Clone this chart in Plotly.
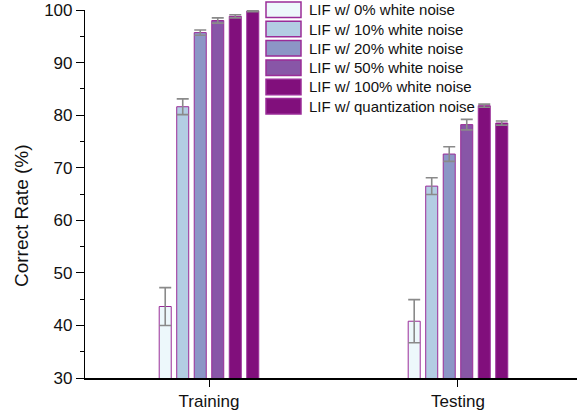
import plotly.graph_objects as go

# Data: correct rate (%) of the LIF model under different noise conditions
phases = ["Training", "Testing"]
series_names = [
    "LIF w/ 0% white noise",
    "LIF w/ 10% white noise",
    "LIF w/ 20% white noise",
    "LIF w/ 50% white noise",
    "LIF w/ 100% white noise",
    "LIF w/ quantization noise",
]
rate_0 = [43.6, 40.8]
rate_10 = [81.6, 66.5]
rate_20 = [95.7, 72.6]
rate_50 = [98.0, 78.2]
rate_100 = [98.8, 81.8]
rate_quant = [99.8, 78.5]
err_0 = [3.6, 4.1]
err_10 = [1.5, 1.6]
err_20 = [0.5, 1.4]
err_50 = [0.5, 1.0]
err_100 = [0.3, 0.3]
err_quant = [0.1, 0.4]

values = [rate_0, rate_10, rate_20, rate_50, rate_100, rate_quant]
errors = [err_0, err_10, err_20, err_50, err_100, err_quant]
fills = ["#EDF8FB", "#B3CDE3", "#8C96C6", "#8856A7", "#810F7C", "#810F7C"]
edge = "#9A2C98"

W, H = 577, 412
ML, MR, MT, MB = 85, 0, 10, 34
PW, PH = W - ML - MR, H - MT - MB
FONT = "Arial, Liberation Sans, sans-serif"

fig = go.Figure()
for name, vals, errs, col in zip(series_names, values, errors, fills):
    fig.add_trace(go.Bar(
        x=phases, y=vals, name=name,
        marker=dict(color=col, line=dict(color=edge, width=1)),
        error_y=dict(type="data", array=errs, visible=True,
                     color="#8A8A8A", thickness=1.6, width=6),
        showlegend=False,
    ))

# Legend drawn as boxed swatches with labels
def px_x(p):
    return (p - ML) / PW

def px_y(p):
    return (H - MB - p) / PH

shapes = []
annotations = []
row_top, row_pitch, sw_h = 2, 19.3, 15.5
for i, (name, col) in enumerate(zip(series_names, fills)):
    top = row_top + i * row_pitch
    shapes.append(dict(
        type="rect", xref="paper", yref="paper",
        x0=px_x(266), x1=px_x(301), y0=px_y(top + sw_h), y1=px_y(top),
        fillcolor=col, line=dict(color=edge, width=1.5), layer="above",
    ))
    annotations.append(dict(
        x=px_x(307), y=px_y(top + sw_h / 2), xref="paper", yref="paper",
        text=name, showarrow=False, xanchor="left", yanchor="middle",
        font=dict(family=FONT, size=15, color="#111111"),
    ))

# Y axis title
annotations.append(dict(
    x=px_x(22), y=px_y(216), xref="paper", yref="paper",
    text="Correct Rate (%)", textangle=-90, showarrow=False,
    xanchor="center", yanchor="middle",
    font=dict(family=FONT, size=19, color="#111111"),
))

fig.update_layout(
    width=W, height=H,
    margin=dict(l=ML, r=MR, t=MT, b=MB, pad=0),
    paper_bgcolor="white", plot_bgcolor="white",
    barmode="group", bargap=0.578, bargroupgap=0.314,
    font=dict(family=FONT, size=17, color="#111111"),
    shapes=shapes, annotations=annotations,
)
fig.update_xaxes(
    range=[-0.498, 1.478], showline=True, linecolor="black", linewidth=1.5,
    ticks="outside", ticklen=7, tickwidth=1.2, tickcolor="black",
    showgrid=False, zeroline=False,
    tickfont=dict(family=FONT, size=17, color="#111111"),
)
fig.update_yaxes(
    range=[30, 100], dtick=10, tick0=30,
    showline=True, linecolor="black", linewidth=1.2,
    ticks="outside", ticklen=8, tickwidth=1.2, tickcolor="black",
    minor=dict(dtick=5, ticks="outside", ticklen=4, tickcolor="black", tickwidth=1),
    showgrid=False, zeroline=False,
    tickfont=dict(family=FONT, size=17, color="#111111"),
)

fig.write_html("out.html")
